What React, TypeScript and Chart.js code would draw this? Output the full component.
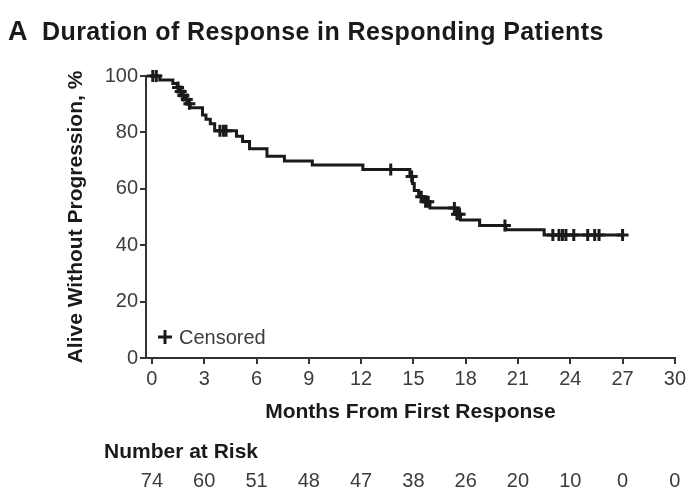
import React, { useEffect, useRef } from "react";
import { Chart, registerables } from "chart.js";

Chart.register(...registerables);

// Months from first response shown on the axis and in the risk table
const riskMonths = [0, 3, 6, 9, 12, 15, 18, 21, 24, 27, 30];
const numberAtRisk = [74, 60, 51, 48, 47, 38, 26, 20, 10, 0, 0];
const yTicks = [0, 20, 40, 60, 80, 100];

// Kaplan-Meier events: month of progression and % alive without progression after it
const eventMonths = [
  0.45, 1.2, 1.45, 1.6, 1.75, 1.9, 2.05, 2.2, 2.9, 3.1, 3.35, 3.6, 4.85, 5.2, 5.6,
  6.6, 7.6, 9.2, 12.1, 14.8, 14.95, 15.05, 15.3, 15.6, 15.95, 17.45, 17.7, 18.8, 20.3, 22.5,
];
const survivalPct = [
  98.6, 97.3, 95.9, 94.5, 93.1, 91.7, 90.2, 88.7, 86.2, 84.7, 83.1, 80.6, 78.6, 76.8, 74.2,
  71.5, 69.9, 68.4, 66.8, 64.4, 61.9, 59.4, 57.2, 55.4, 53.2, 51.0, 48.9, 47.0, 45.5, 43.6,
];
// Censored observations (months)
const censorMonths = [
  0.05, 0.25, 1.5, 1.65, 1.8, 2.0, 2.15, 3.9, 4.1, 4.25, 13.7, 14.9, 15.45, 15.7, 15.85,
  17.35, 17.5, 17.65, 20.25, 23.0, 23.35, 23.55, 23.75, 24.2, 25.0, 25.4, 25.65, 27.0,
];
const lastFollowUp = 27.0;

const INK = "#1a1a1a";
const TICK_INK = "#3c3c3c";
const FONT = "'Liberation Sans', Arial, sans-serif";

function levelAt(t: number): number {
  let s = 100;
  for (let i = 0; i < eventMonths.length; i++) {
    if (eventMonths[i] <= t) s = survivalPct[i];
  }
  return s;
}

const stepPoints = [
  { x: 0, y: 100 },
  ...eventMonths.map((m, i) => ({ x: m, y: survivalPct[i] })),
  { x: lastFollowUp, y: levelAt(lastFollowUp) },
];
const censorPoints = censorMonths.map((m) => ({ x: m, y: levelAt(m) }));

const annotations = {
  id: "kmText",
  afterDraw(chart: any) {
    const { ctx, chartArea, scales } = chart;
    const xs = scales.x;
    ctx.save();
    ctx.fillStyle = INK;
    ctx.textBaseline = "alphabetic";

    // Panel letter and title
    ctx.textAlign = "left";
    ctx.font = `bold 27px ${FONT}`;
    ctx.fillText("A", 8, 40);
    ctx.font = `bold 25px ${FONT}`;
    (ctx as any).letterSpacing = "0.4px";
    ctx.fillText("Duration of Response in Responding Patients", 42, 40);
    (ctx as any).letterSpacing = "0px";

    // Axis titles
    ctx.font = `bold 21px ${FONT}`;
    ctx.textAlign = "center";
    ctx.textBaseline = "middle";
    ctx.fillText("Months From First Response", (chartArea.left + chartArea.right) / 2, 412);
    ctx.save();
    ctx.translate(76, (chartArea.top + chartArea.bottom) / 2);
    ctx.rotate(-Math.PI / 2);
    ctx.fillText("Alive Without Progression, %", 0, 0);
    ctx.restore();

    // Number at risk table
    ctx.textAlign = "left";
    ctx.fillText("Number at Risk", 104, 452);
    ctx.font = `20px ${FONT}`;
    ctx.fillStyle = TICK_INK;
    ctx.textAlign = "center";
    riskMonths.forEach((m, i) => {
      ctx.fillText(String(numberAtRisk[i]), xs.getPixelForValue(m), 481);
    });

    // Censor key
    const kx = chartArea.left + 19;
    const ky = chartArea.bottom - 21;
    ctx.strokeStyle = INK;
    ctx.lineWidth = 3;
    ctx.beginPath();
    ctx.moveTo(kx - 7, ky);
    ctx.lineTo(kx + 7, ky);
    ctx.moveTo(kx, ky - 7);
    ctx.lineTo(kx, ky + 7);
    ctx.stroke();
    ctx.fillStyle = TICK_INK;
    ctx.textAlign = "left";
    ctx.font = `20px ${FONT}`;
    ctx.fillText("Censored", kx + 14, ky + 1);
    ctx.restore();
  },
};

export default function App() {
  const ref = useRef<HTMLCanvasElement | null>(null);

  useEffect(() => {
    if (!ref.current) return;
    const chart = new Chart(ref.current, {
      type: "line",
      data: {
        datasets: [
          {
            type: "line",
            data: stepPoints,
            stepped: "before",
            borderColor: INK,
            borderWidth: 3,
            pointRadius: 0,
            fill: false,
            clip: false,
          } as any,
          {
            type: "scatter",
            data: censorPoints,
            pointStyle: "cross",
            pointRadius: 6,
            borderWidth: 3,
            borderColor: INK,
            backgroundColor: INK,
            clip: false,
          } as any,
        ],
      },
      options: {
        responsive: false,
        animation: false,
        events: [],
        layout: { padding: { left: 0, right: 12, top: 76, bottom: 0 } },
        plugins: { legend: { display: false }, tooltip: { enabled: false }, title: { display: false } },
        scales: {
          x: {
            type: "linear",
            min: -0.34,
            max: 30,
            afterBuildTicks: (s: any) => {
              s.ticks = riskMonths.map((v) => ({ value: v }));
            },
            afterFit: (s: any) => {
              s.height = 133;
            },
            ticks: {
              autoSkip: false,
              maxRotation: 0,
              padding: 3,
              color: TICK_INK,
              font: { family: FONT, size: 20 },
            },
            grid: {
              display: true,
              drawOnChartArea: false,
              drawTicks: true,
              tickLength: 6,
              color: "#333",
              lineWidth: 2,
            },
            border: { display: true, color: "#333", width: 2 },
          },
          y: {
            type: "linear",
            min: 0,
            max: 100,
            afterBuildTicks: (s: any) => {
              s.ticks = yTicks.map((v) => ({ value: v }));
            },
            afterFit: (s: any) => {
              s.width = 146;
            },
            ticks: {
              padding: 2,
              color: TICK_INK,
              font: { family: FONT, size: 20 },
            },
            grid: {
              display: true,
              drawOnChartArea: false,
              drawTicks: true,
              tickLength: 6,
              color: "#333",
              lineWidth: 2,
            },
            border: { display: true, color: "#333", width: 2 },
          },
        },
      },
      plugins: [annotations],
    });
    return () => chart.destroy();
  }, []);

  return (
    <div style={{ position: "fixed", left: 0, top: 0, width: 689, height: 491, background: "#fff" }}>
      <canvas ref={ref} width={689} height={491} style={{ display: "block" }} />
    </div>
  );
}
